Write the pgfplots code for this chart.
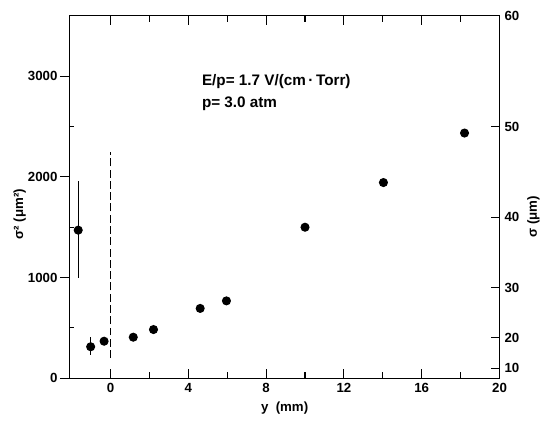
\documentclass[border=0pt]{standalone}
\usepackage{fontspec}
\setmainfont{Liberation Sans}
\usepackage{pgfplots}
\pgfplotsset{compat=1.18}

\begin{document}
\begin{tikzpicture}[font=\bfseries]
\pgfplotsset{
  common/.style={
    width=324pt, height=273pt, scale only axis,
    xmin=-2.1, xmax=20, ymin=0, ymax=3600,
    /pgf/number format/assume math mode=true,
    /pgf/number format/1000 sep={},
    tick label style={font=\bfseries\normalsize},
    label style={font=\bfseries\normalsize},
    every axis/.append style={line width=0.8pt},
    tick style={line width=0.8pt, black},
  }
}
\begin{axis}[common, name=ax,
  xtick pos=both, ytick pos=left,
  xtick={0,4,...,20}, minor xtick={2,6,...,18},
  major tick length=7pt, minor tick length=4.5pt,
  ytick={0,1000,2000,3000}, ytick align=outside,
  extra y ticks={500,1500,2500}, extra y tick labels={},
  extra y tick style={tick align=inside, major tick length=3.5pt},
  xtick align=inside,
  yticklabel style={xshift=1.5pt},
  xlabel={y\ \ (mm)}, ylabel={σ² (μm²)},
  ylabel style={at={(axis description cs:-0.116,0.453)}, anchor=center},
  xlabel style={at={(axis description cs:0.5,-0.082)}, anchor=center},
]
\addplot[only marks, mark=*, mark size=3pt, black,
  error bars/.cd, y dir=both, y explicit, error mark=none,
  error bar style={line width=0.8pt}]
  coordinates {
  (-1.66,1471) += (0,485) -= (0,471)
  (-1.02,312) += (0,98) -= (0,82)
  (-0.33,367) += (0,0) -= (0,0)
  (1.17,407) += (0,0) -= (0,0)
  (2.21,483) += (0,0) -= (0,0)
  (4.61,693) += (0,0) -= (0,0)
  (5.96,768) += (0,0) -= (0,0)
  (10.0,1500) += (0,0) -= (0,0)
  (14.03,1944) += (0,0) -= (0,0)
  (18.2,2436) += (0,0) -= (0,0)
  };
\addplot[black, line width=0.8pt, dash pattern=on 6pt off 2.5pt] coordinates {(0,200) (0,2250)};
\node[anchor=base west, font=\bfseries\fontsize{11.5}{13}\selectfont] at (axis cs:4.45,2910) {E/p= 1.7 V/(cm\,·\,Torr)};
\node[anchor=base west, font=\bfseries\fontsize{11.5}{13}\selectfont] at (axis cs:4.45,2690) {p= 3.0 atm};
\end{axis}
\begin{axis}[common,
  axis x line=none, axis y line*=right,
  ytick={100,400,900,1600,2500,3600},
  yticklabels={10,20,30,40,50,60},
  ytick align=inside, major tick length=6.5pt,
  ylabel={σ (μm)},
  ylabel style={at={(axis description cs:1.079,0.445)}, anchor=center},
]
\end{axis}
\pgfresetboundingbox
\path ([xshift=-52.5pt,yshift=-34.5pt]ax.south west) rectangle ([xshift=32pt,yshift=12pt]ax.north east);
\end{tikzpicture}
\end{document}
